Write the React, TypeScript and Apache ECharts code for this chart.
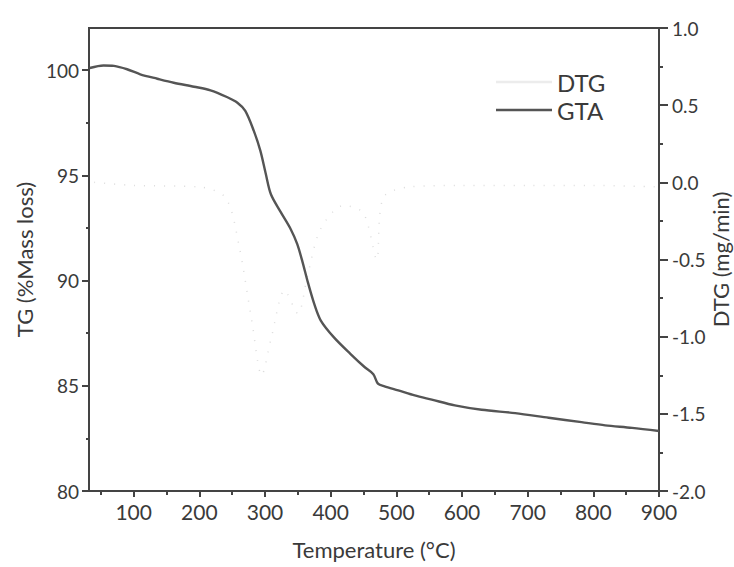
import React, { useEffect, useRef } from "react";
import * as echarts from "echarts";

const tgTemp = [33, 54, 70, 90, 110, 136, 161, 192, 217, 242, 258, 270, 283, 293, 301, 309, 324, 339, 349, 357, 365, 375, 385, 405, 430, 452, 465, 472, 482, 503, 528, 554, 589, 630, 681, 732, 782, 818, 859, 900];
const tgValues = [100.1, 100.22, 100.2, 100.04, 99.8, 99.59, 99.4, 99.21, 99.04, 98.72, 98.45, 98.06, 97.11, 96.16, 95.1, 94.1, 93.25, 92.45, 91.74, 90.9, 89.95, 88.89, 88.1, 87.3, 86.52, 85.88, 85.55, 85.1, 84.97, 84.78, 84.54, 84.34, 84.07, 83.86, 83.7, 83.48, 83.27, 83.12, 83.0, 82.85];

const dtgTemp = [40, 100, 200, 240, 260, 280, 295, 310, 330, 350, 365, 385, 420, 450, 470, 480, 520, 600, 700, 800, 900];
const dtgValues = [0.0, -0.02, -0.03, -0.1, -0.4, -0.9, -1.25, -1.0, -0.7, -0.85, -0.6, -0.3, -0.15, -0.2, -0.5, -0.1, -0.03, -0.02, -0.02, -0.02, -0.03];

const xMajorTicks = [100, 200, 300, 400, 500, 600, 700, 800, 900];
const xMinorTicks = [50, 150, 250, 350, 450, 550, 650, 750, 850];
const tgMajorTicks = [80, 85, 90, 95, 100];
const tgMinorTicks = [82.5, 87.5, 92.5, 97.5];

const FONT = "Lato";
const AXIS_COLOR = "#444";
const TEXT_COLOR = "#3a3a3a";
const TG_COLOR = "#555";
const DTG_COLOR = "#dcdcdc";

export default function App() {
  const ref = useRef<HTMLDivElement>(null);
  useEffect(() => {
    if (!ref.current) return;
    const chart = echarts.init(ref.current, null, { renderer: "svg" });
    const gridPos = { left: 89, right: 75, top: 28, bottom: 76, outerBoundsMode: "none", containLabel: false };
    chart.setOption({
      animation: false,
      backgroundColor: "#fff",
      textStyle: { fontFamily: FONT, color: TEXT_COLOR },
      grid: [
        { ...gridPos, show: true, borderColor: AXIS_COLOR, borderWidth: 2, backgroundColor: "transparent" },
        { ...gridPos, show: false },
      ],
      legend: {
        orient: "vertical",
        left: 491,
        top: 65,
        itemWidth: 56,
        itemHeight: 2.5,
        itemGap: 4,
        textStyle: { fontFamily: FONT, fontSize: 24, color: TEXT_COLOR },
        data: [
          { name: "DTG", icon: "rect", itemStyle: { color: "#ececec" } },
          { name: "GTA", icon: "rect", itemStyle: { color: TG_COLOR } },
        ],
      },
      xAxis: [
        {
          type: "value",
          gridIndex: 0,
          min: 32,
          max: 900,
          name: "Temperature (°C)",
          nameLocation: "middle",
          nameGap: 47,
          nameTextStyle: { fontFamily: FONT, fontSize: 22, color: TEXT_COLOR },
          axisLine: { show: true, onZero: false, lineStyle: { color: AXIS_COLOR, width: 2 } },
          axisTick: { show: true, customValues: xMajorTicks, length: 6, lineStyle: { color: AXIS_COLOR, width: 2 } },
          axisLabel: { customValues: xMajorTicks, fontFamily: FONT, fontSize: 21, color: TEXT_COLOR, margin: 10 },
          splitLine: { show: false },
        },
        {
          type: "value",
          gridIndex: 1,
          min: 32,
          max: 900,
          axisLine: { show: false, onZero: false },
          axisTick: { show: true, customValues: xMinorTicks, length: 4, lineStyle: { color: AXIS_COLOR, width: 2 } },
          axisLabel: { show: false },
          splitLine: { show: false },
        },
      ],
      yAxis: [
        {
          type: "value",
          gridIndex: 0,
          position: "left",
          min: 80,
          max: 102,
          name: "TG (%Mass loss)",
          nameLocation: "middle",
          nameGap: 52,
          nameTextStyle: { fontFamily: FONT, fontSize: 22, color: TEXT_COLOR },
          axisLine: { show: true, onZero: false, lineStyle: { color: AXIS_COLOR, width: 2 } },
          axisTick: { show: true, customValues: tgMajorTicks, length: 7, lineStyle: { color: AXIS_COLOR, width: 2 } },
          axisLabel: { customValues: tgMajorTicks, fontFamily: FONT, fontSize: 19, color: TEXT_COLOR, margin: 10 },
          splitLine: { show: false },
        },
        {
          type: "value",
          gridIndex: 0,
          position: "right",
          min: -2,
          max: 1,
          interval: 0.5,
          name: "DTG (mg/min)",
          nameLocation: "middle",
          nameGap: 50,
          nameMoveOverlap: false,
          nameTextStyle: { fontFamily: FONT, fontSize: 22, color: TEXT_COLOR },
          axisLine: { show: true, onZero: false, lineStyle: { color: AXIS_COLOR, width: 2 } },
          axisTick: { show: true, length: 9, lineStyle: { color: AXIS_COLOR, width: 2 } },
          minorTick: { show: true, splitNumber: 2, length: 4, lineStyle: { color: AXIS_COLOR, width: 2 } },
          axisLabel: { fontFamily: FONT, fontSize: 19, color: TEXT_COLOR, margin: 13, formatter: (v: number) => v.toFixed(1) },
          splitLine: { show: false },
        },
        {
          type: "value",
          gridIndex: 1,
          position: "left",
          min: 80,
          max: 102,
          axisLine: { show: false, onZero: false },
          axisTick: { show: true, customValues: tgMinorTicks, length: 3, lineStyle: { color: AXIS_COLOR, width: 2 } },
          axisLabel: { show: false },
          splitLine: { show: false },
        },
      ],
      series: [
        {
          name: "DTG",
          type: "line",
          xAxisIndex: 0,
          yAxisIndex: 1,
          data: dtgTemp.map((t, i) => [t, dtgValues[i]]),
          smooth: 0.3,
          showSymbol: false,
          symbol: "none",
          lineStyle: { color: DTG_COLOR, width: 1.5, type: [1, 9] },
          itemStyle: { color: DTG_COLOR },
        },
        {
          name: "GTA",
          type: "line",
          xAxisIndex: 0,
          yAxisIndex: 0,
          data: tgTemp.map((t, i) => [t, tgValues[i]]),
          smooth: 0.3,
          showSymbol: false,
          symbol: "none",
          lineStyle: { color: TG_COLOR, width: 2.4 },
          itemStyle: { color: TG_COLOR },
        },
      ],
    });
    return () => chart.dispose();
  }, []);
  return <div ref={ref} style={{ position: "fixed", left: 0, top: 0, width: 734, height: 567 }} />;
}
